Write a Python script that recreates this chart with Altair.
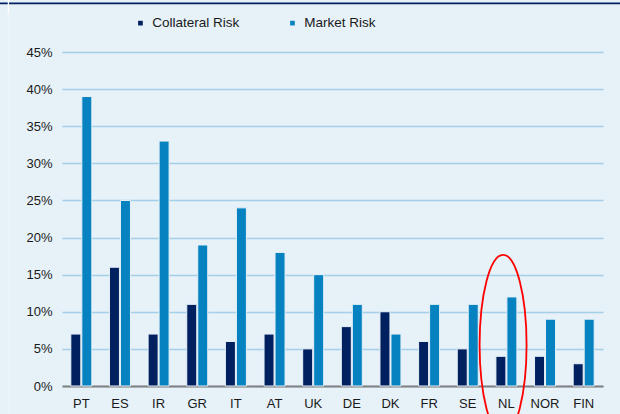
import altair as alt
import pandas as pd

# Country codes along the x axis
countries = ["PT", "ES", "IR", "GR", "IT", "AT", "UK", "DE", "DK", "FR", "SE", "NL", "NOR", "FIN"]
series = ["Collateral Risk", "Market Risk"]

# Values in percent
collateral_risk = [7, 16, 7, 11, 6, 7, 5, 8, 10, 6, 5, 4, 4, 3]
market_risk = [39, 25, 33, 19, 24, 18, 15, 11, 7, 11, 11, 12, 9, 9]

y_ticks = [0, 5, 10, 15, 20, 25, 30, 35, 40, 45]

# Highlighted country and the vertical centre of its ring (percent)
highlight_country = ["NL"]
highlight_level = [5.55]

rows = []
for c, a, b in zip(countries, collateral_risk, market_risk):
    rows.append({"country": c, "series": series[0], "value": a})
    rows.append({"country": c, "series": series[1], "value": b})
df = pd.DataFrame(rows)
ring_df = pd.DataFrame({"country": highlight_country, "value": highlight_level})

BG = "#e6f1f8"
NAVY = "#002060"
BLUE = "#0782c0"
GRID = "#a3cfe8"
TEXT = "#1a1a1a"
FONT = "Liberation Sans"

W, H = 541, 334

x_scale = alt.Scale(domain=countries, paddingInner=0.4567, paddingOuter=0.2284)
y_scale = alt.Scale(domain=[0, 45], nice=False)

x_axis = alt.Axis(
    title=None, labelAngle=0, ticks=False, grid=False,
    domainColor="#808080", domainWidth=2, labelPadding=11,
)
y_axis = alt.Axis(
    title=None, values=y_ticks, labelExpr="datum.value + '%'",
    domain=False, ticks=False, gridColor=GRID, gridWidth=1.3, labelPadding=10,
)

bars = alt.Chart(df).mark_bar(stroke=BG, strokeWidth=1).encode(
    x=alt.X("country:N", scale=x_scale, axis=x_axis),
    xOffset=alt.XOffset("series:N", scale=alt.Scale(domain=series, paddingInner=0.0909, paddingOuter=0)),
    y=alt.Y("value:Q", scale=y_scale, axis=y_axis),
    color=alt.Color(
        "series:N",
        scale=alt.Scale(domain=series, range=[NAVY, BLUE]),
        legend=alt.Legend(
            title=None, orient="none", legendX=71.7, legendY=-36,
            direction="horizontal", symbolType="square", symbolSize=22,
            symbolStrokeWidth=0, labelFontSize=13.5, labelFont=FONT,
            labelColor=TEXT, columnPadding=46, labelOffset=5, padding=0,
        ),
    ),
)

# Unit ellipse (tall and narrow) drawn as a custom symbol
k = 0.5523
rx = 0.261
ellipse_path = (
    f"M0,-1C{k*rx:.4f},-1,{rx},{-k},{rx},0"
    f"C{rx},{k},{k*rx:.4f},1,0,1"
    f"C{-k*rx:.4f},1,{-rx},{k},{-rx},0"
    f"C{-rx},{-k},{-k*rx:.4f},-1,0,-1Z"
)

ring = alt.Chart(ring_df).mark_point(
    shape=ellipse_path, size=32400, filled=False, stroke="#ff0000",
    strokeWidth=1.8, opacity=1, xOffset=-3.3,
).encode(
    x=alt.X("country:N", scale=x_scale, axis=x_axis),
    y=alt.Y("value:Q", scale=y_scale, axis=y_axis),
)

one = alt.Data(values=[{}])

# Dark band across the top of the page
top_band = alt.Chart(one).mark_rule(color=NAVY, strokeWidth=1.7).encode(
    x=alt.value(-63), x2=alt.value(562), y=alt.value(-48.6)
)
# Thin light divider near the left edge
divider_top = alt.Chart(one).mark_rule(color="#ffffff", strokeWidth=1.3).encode(
    x=alt.value(-53.6), y=alt.value(-52.3), y2=alt.value(-38.3)
)
divider = alt.Chart(one).mark_rule(color="#ffffff", strokeWidth=1, opacity=0.45).encode(
    x=alt.value(-53.0), y=alt.value(-38.3), y2=alt.value(362)
)

chart = alt.layer(bars, ring, top_band, divider_top, divider).properties(
    width=W, height=H,
    autosize=alt.AutoSizeParams(type="none"),
    padding={"left": 62, "top": 52, "right": 17, "bottom": 28},
    background=BG,
).configure_view(
    stroke="transparent"
).configure_axis(
    labelFont=FONT, labelFontSize=13, labelColor=TEXT,
)

chart.save("out.html", embed_options={"renderer": "svg", "actions": False})
